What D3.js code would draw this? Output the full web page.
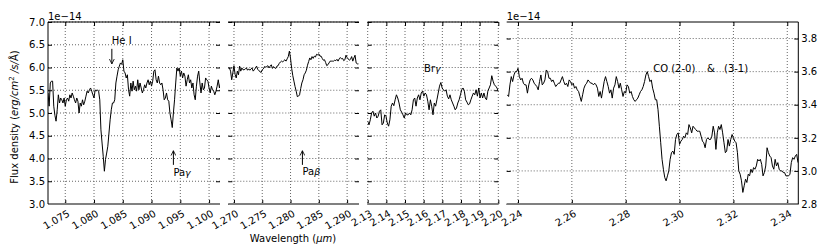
<!DOCTYPE html>
<html>
<head>
<meta charset="utf-8">
<script src="https://cdn.jsdelivr.net/npm/d3@7"></script>
<style>
  body { margin: 0; background: #fff; }
  svg { display: block; font-family: "DejaVu Sans", sans-serif; }
</style>
</head>
<body>
<svg id="chart" width="830" height="252"></svg>
<script>
// Spectrum pieces (flux in units of 1e-14)
const p1Wave = [
  1.0720,1.0722,1.0724,1.0726,1.0728,1.0730,1.0732,1.0734,1.0736,1.0738,
  1.0740,1.0742,1.0744,1.0746,1.0748,1.0750,1.0752,1.0754,1.0756,1.0758,
  1.0760,1.0762,1.0764,1.0766,1.0768,1.0770,1.0772,1.0774,1.0776,1.0778,
  1.0780,1.0782,1.0784,1.0786,1.0788,1.0790,1.0792,1.0794,1.0796,1.0798,
  1.0800,1.0802,1.0804,1.0806,1.0808,1.0810,1.0812,1.0814,1.0816,1.0818,
  1.0820,1.0822,1.0824,1.0826,1.0828,1.0830,1.0832,1.0834,1.0836,1.0838,
  1.0840,1.0842,1.0844,1.0846,1.0848,1.0850,1.0852,1.0854,1.0856,1.0858,
  1.0860,1.0862,1.0864,1.0866,1.0868,1.0870,1.0872,1.0874,1.0876,1.0878,
  1.0880,1.0882,1.0884,1.0886,1.0888,1.0890,1.0892,1.0894,1.0896,1.0898,
  1.0900,1.0902,1.0904,1.0906,1.0908,1.0910,1.0912,1.0914,1.0916,1.0918,
  1.0920,1.0922,1.0924,1.0926,1.0928,1.0930,1.0932,1.0934,1.0936,1.0938,
  1.0940,1.0942,1.0944,1.0946,1.0948,1.0950,1.0952,1.0954,1.0956,1.0958,
  1.0960,1.0962,1.0964,1.0966,1.0968,1.0970,1.0972,1.0974,1.0976,1.0978,
  1.0980,1.0982,1.0984,1.0986,1.0988,1.0990,1.0992,1.0994,1.0996,1.0998,
  1.1000,1.1002,1.1004,1.1006,1.1008,1.1010,1.1012,1.1014,1.1016,1.1018,
  1.1020
];
const p1Flux = [
  5.44,5.15,5.66,5.70,5.70,5.15,4.95,4.82,5.07,5.40,
  5.22,5.33,5.29,5.22,5.33,5.15,5.29,5.33,5.26,5.40,
  5.33,5.44,5.37,5.29,5.22,5.33,5.26,5.00,5.22,5.15,
  5.29,5.18,5.26,5.37,5.48,5.44,5.51,5.55,5.48,5.40,
  5.33,5.51,5.48,5.51,5.48,5.29,4.63,4.34,4.05,3.72,
  3.98,4.12,4.27,4.56,4.85,5.07,5.22,5.22,5.29,5.66,
  5.81,5.95,6.03,6.10,6.07,6.17,5.92,5.88,5.77,5.84,
  5.51,5.37,5.66,5.48,5.70,5.51,5.59,5.48,5.73,5.51,
  5.66,5.55,5.44,5.51,5.62,5.55,5.66,5.73,5.62,5.70,
  5.59,5.70,5.92,5.95,5.73,5.66,5.81,5.66,5.62,5.66,
  5.51,5.29,5.33,5.44,5.29,5.26,5.00,4.85,4.68,5.00,
  5.29,5.66,5.99,5.92,5.99,5.81,5.92,5.77,5.88,5.81,
  5.59,5.73,5.84,5.66,5.73,5.55,5.66,5.40,5.29,5.59,
  5.81,5.92,5.66,5.44,5.66,5.51,5.55,5.77,5.73,5.70,
  5.55,5.44,5.59,5.51,5.48,5.40,5.48,5.59,5.73,5.55,
  5.66
];

const p2Wave = [
  1.2690,1.2692,1.2694,1.2696,1.2698,1.2700,1.2702,1.2704,1.2706,1.2708,
  1.2710,1.2712,1.2714,1.2716,1.2718,1.2720,1.2722,1.2724,1.2726,1.2728,
  1.2730,1.2732,1.2734,1.2736,1.2738,1.2740,1.2742,1.2744,1.2746,1.2748,
  1.2750,1.2752,1.2754,1.2756,1.2758,1.2760,1.2762,1.2764,1.2766,1.2768,
  1.2770,1.2772,1.2774,1.2776,1.2778,1.2780,1.2782,1.2784,1.2786,1.2788,
  1.2790,1.2792,1.2794,1.2796,1.2798,1.2800,1.2802,1.2804,1.2806,1.2808,
  1.2810,1.2812,1.2814,1.2816,1.2818,1.2820,1.2822,1.2824,1.2826,1.2828,
  1.2830,1.2832,1.2834,1.2836,1.2838,1.2840,1.2842,1.2844,1.2846,1.2848,
  1.2850,1.2852,1.2854,1.2856,1.2858,1.2860,1.2862,1.2864,1.2866,1.2868,
  1.2870,1.2872,1.2874,1.2876,1.2878,1.2880,1.2882,1.2884,1.2886,1.2888,
  1.2890,1.2892,1.2894,1.2896,1.2898,1.2900,1.2902,1.2904,1.2906,1.2908,
  1.2910,1.2912,1.2914,1.2916,1.2918,1.2920
];
const p2Flux = [
  5.99,5.99,5.92,5.73,5.88,6.04,5.85,5.77,5.92,5.84,
  6.03,5.92,5.99,5.95,5.95,5.97,5.99,5.94,5.97,5.94,
  5.97,5.99,5.92,5.95,5.99,6.03,5.96,5.93,5.91,5.89,
  5.95,5.97,6.02,6.01,6.02,6.04,5.99,6.03,6.06,5.98,
  6.02,5.99,5.98,6.03,6.04,6.09,6.12,6.14,6.12,6.15,
  6.17,6.14,6.19,6.24,6.36,6.20,5.98,5.82,5.70,5.58,
  5.48,5.36,5.37,5.40,5.54,5.66,5.73,5.84,5.88,5.94,
  6.05,6.13,6.21,6.17,6.24,6.20,6.25,6.23,6.29,6.28,
  6.30,6.25,6.25,6.20,6.16,6.17,6.11,6.04,6.06,6.10,
  6.14,6.14,6.14,6.14,6.16,6.15,6.18,6.14,6.19,6.22,
  6.19,6.20,6.15,6.17,6.27,6.22,6.19,6.16,6.18,6.24,
  6.14,6.21,6.27,6.10,6.08,6.08
];

const p3Wave = [
  2.1300,2.1307,2.1314,2.1321,2.1328,2.1335,2.1342,2.1349,2.1356,2.1363,
  2.1370,2.1377,2.1384,2.1391,2.1398,2.1405,2.1412,2.1419,2.1426,2.1433,
  2.1440,2.1447,2.1454,2.1461,2.1468,2.1475,2.1482,2.1489,2.1496,2.1503,
  2.1510,2.1517,2.1524,2.1531,2.1538,2.1545,2.1552,2.1559,2.1566,2.1573,
  2.1580,2.1587,2.1594,2.1601,2.1608,2.1615,2.1622,2.1629,2.1636,2.1643,
  2.1650,2.1657,2.1664,2.1671,2.1678,2.1685,2.1692,2.1699,2.1706,2.1713,
  2.1720,2.1727,2.1734,2.1741,2.1748,2.1755,2.1762,2.1769,2.1776,2.1783,
  2.1790,2.1797,2.1804,2.1811,2.1818,2.1825,2.1832,2.1839,2.1846,2.1853,
  2.1860,2.1867,2.1874,2.1881,2.1888,2.1895,2.1902,2.1909,2.1916,2.1923,
  2.1930,2.1937,2.1944,2.1951,2.1958,2.1965,2.1972,2.1979,2.1986,2.1993,
  2.2000
];
const p3Flux = [
  4.82,4.74,4.85,5.00,5.04,4.93,5.00,4.89,4.93,5.04,
  5.07,4.74,4.78,4.96,4.93,4.78,4.71,4.85,5.15,5.22,
  5.16,5.29,5.40,5.33,5.22,5.07,5.02,4.96,4.89,5.00,
  4.96,4.96,5.00,4.96,5.07,5.29,5.33,5.15,5.33,5.40,
  5.29,5.44,5.48,5.37,5.44,5.40,5.26,5.07,5.29,5.15,
  4.96,5.22,5.15,5.29,5.44,5.59,5.67,5.55,5.51,5.48,
  5.51,5.37,5.31,5.40,5.29,5.22,5.15,5.07,5.11,5.22,
  5.29,5.40,5.51,5.55,5.48,5.29,5.24,5.18,5.20,5.29,
  5.37,5.44,5.40,5.51,5.37,5.55,5.33,5.44,5.33,5.44,
  5.33,5.29,5.48,5.55,5.62,5.82,5.70,5.62,5.59,5.55,
  5.48
];

const p4Wave = [
  2.2360,2.2365,2.2370,2.2375,2.2380,2.2385,2.2390,2.2395,2.2400,2.2405,
  2.2410,2.2415,2.2420,2.2425,2.2430,2.2435,2.2440,2.2445,2.2450,2.2455,
  2.2460,2.2465,2.2470,2.2475,2.2480,2.2485,2.2490,2.2495,2.2500,2.2505,
  2.2510,2.2515,2.2520,2.2525,2.2530,2.2535,2.2540,2.2545,2.2550,2.2555,
  2.2560,2.2565,2.2570,2.2575,2.2580,2.2585,2.2590,2.2595,2.2600,2.2605,
  2.2610,2.2615,2.2620,2.2625,2.2630,2.2635,2.2640,2.2645,2.2650,2.2655,
  2.2660,2.2665,2.2670,2.2675,2.2680,2.2685,2.2690,2.2695,2.2700,2.2705,
  2.2710,2.2715,2.2720,2.2725,2.2730,2.2735,2.2740,2.2745,2.2750,2.2755,
  2.2760,2.2765,2.2770,2.2775,2.2780,2.2785,2.2790,2.2795,2.2800,2.2805,
  2.2810,2.2815,2.2820,2.2825,2.2830,2.2835,2.2840,2.2845,2.2850,2.2855,
  2.2860,2.2865,2.2870,2.2875,2.2880,2.2885,2.2890,2.2895,2.2900,2.2905,
  2.2910,2.2915,2.2920,2.2925,2.2930,2.2935,2.2940,2.2945,2.2950,2.2955,
  2.2960,2.2965,2.2970,2.2975,2.2980,2.2985,2.2990,2.2995,2.3000,2.3005,
  2.3010,2.3015,2.3020,2.3025,2.3030,2.3035,2.3040,2.3045,2.3050,2.3055,
  2.3060,2.3065,2.3070,2.3075,2.3080,2.3085,2.3090,2.3095,2.3100,2.3105,
  2.3110,2.3115,2.3120,2.3125,2.3130,2.3135,2.3140,2.3145,2.3150,2.3155,
  2.3160,2.3165,2.3170,2.3175,2.3180,2.3185,2.3190,2.3195,2.3200,2.3205,
  2.3210,2.3215,2.3220,2.3225,2.3230,2.3235,2.3240,2.3245,2.3250,2.3255,
  2.3260,2.3265,2.3270,2.3275,2.3280,2.3285,2.3290,2.3295,2.3300,2.3305,
  2.3310,2.3315,2.3320,2.3325,2.3330,2.3335,2.3340,2.3345,2.3350,2.3355,
  2.3360,2.3365,2.3370,2.3375,2.3380,2.3385,2.3390,2.3395,2.3400,2.3405,
  2.3410,2.3415,2.3420,2.3425,2.3430,2.3435,2.3440
];
const p4Flux = [
  3.46,3.45,3.52,3.57,3.54,3.58,3.60,3.60,3.62,3.57,
  3.55,3.56,3.53,3.52,3.52,3.47,3.52,3.55,3.56,3.55,
  3.53,3.52,3.51,3.49,3.54,3.58,3.52,3.53,3.55,3.61,
  3.60,3.56,3.56,3.54,3.55,3.53,3.51,3.52,3.53,3.53,
  3.55,3.57,3.54,3.52,3.53,3.51,3.55,3.54,3.52,3.53,
  3.50,3.51,3.49,3.48,3.45,3.42,3.46,3.50,3.52,3.53,
  3.55,3.54,3.53,3.53,3.52,3.53,3.52,3.50,3.45,3.48,
  3.44,3.49,3.54,3.57,3.54,3.51,3.47,3.49,3.44,3.50,
  3.52,3.57,3.54,3.50,3.53,3.49,3.45,3.48,3.47,3.52,
  3.51,3.47,3.48,3.45,3.43,3.42,3.43,3.44,3.46,3.48,
  3.49,3.51,3.54,3.58,3.60,3.57,3.54,3.55,3.50,3.47,
  3.43,3.43,3.37,3.27,3.17,3.07,3.01,2.96,2.94,2.97,
  3.00,3.07,3.11,3.12,3.10,3.19,3.22,3.23,3.16,3.18,
  3.19,3.21,3.20,3.23,3.22,3.28,3.26,3.23,3.27,3.26,
  3.25,3.24,3.24,3.24,3.21,3.18,3.17,3.14,3.19,3.20,
  3.19,3.19,3.21,3.27,3.23,3.13,3.23,3.27,3.25,3.28,
  3.23,3.17,3.11,3.12,3.19,3.15,3.19,3.22,3.20,3.18,
  3.17,3.11,3.00,2.98,2.94,2.87,2.91,2.95,2.93,2.98,
  2.97,3.01,2.99,3.02,3.01,3.03,3.07,3.06,3.07,3.04,
  2.97,2.99,3.03,3.14,3.11,3.09,3.08,3.03,3.01,3.07,
  3.03,3.05,3.01,3.00,3.00,2.99,2.99,2.97,2.97,2.97,
  2.98,3.05,3.08,3.07,3.09,3.10,3.05
];

// Tick values
const p1Ticks = [1.075, 1.080, 1.085, 1.090, 1.095, 1.100];
const p2Ticks = [1.270, 1.275, 1.280, 1.285, 1.290];
const p3Ticks = [2.13, 2.14, 2.15, 2.16, 2.17, 2.18, 2.19, 2.20];
const p4Ticks = [2.24, 2.26, 2.28, 2.30, 2.32, 2.34];
const leftFluxTicks = [3.0, 3.5, 4.0, 4.5, 5.0, 5.5, 6.0, 6.5, 7.0];
const rightFluxTicks = [2.8, 3.0, 3.2, 3.4, 3.6, 3.8];

// Line identifications: [panel, label, greek, wavelength, textFlux, arrowFrom, arrowTo]
const lineIds = [
  [0, "He I", "",  1.0831, 6.52, 6.41, 6.08],
  [0, "Pa",   "γ", 1.0938, 3.62, 3.86, 4.17],
  [1, "Pa",   "β", 1.2821, 3.64, 3.86, 4.17],
  [2, "Br",   "γ", 2.1602, 5.91, null, null]
];
const coLabels = [["CO (2-0)", 2.2902], ["&", 2.3102], ["(3-1)", 2.3165]];

const svg = d3.select("#chart");
const plotTop = 22, plotBottom = 204;
const font = "DejaVu Sans, sans-serif";

const yLeft = d3.scaleLinear().domain([3.0, 7.0]).range([plotBottom, plotTop]);
const yRight = d3.scaleLinear().domain([2.8, 3.9]).range([plotBottom, plotTop]);

const panels = [
  {wave: p1Wave, flux: p1Flux, domain: [1.0720, 1.1019], px: [48, 220], ticks: p1Ticks, fmt: ".3f", y: yLeft, yTicks: leftFluxTicks},
  {wave: p2Wave, flux: p2Flux, domain: [1.2690, 1.2921], px: [228.3, 359], ticks: p2Ticks, fmt: ".3f", y: yLeft, yTicks: leftFluxTicks},
  {wave: p3Wave, flux: p3Flux, domain: [2.1300, 2.2000], px: [367.7, 498.3], ticks: p3Ticks, fmt: ".2f", y: yLeft, yTicks: leftFluxTicks},
  {wave: p4Wave, flux: p4Flux, domain: [2.2358, 2.3441], px: [506.7, 798.3], ticks: p4Ticks, fmt: ".2f", y: yRight, yTicks: rightFluxTicks}
];

const defs = svg.append("defs");
defs.append("marker")
    .attr("id", "head")
    .attr("viewBox", "0 0 10 10")
    .attr("refX", 9).attr("refY", 5)
    .attr("markerWidth", 6).attr("markerHeight", 6)
    .attr("orient", "auto")
  .append("path")
    .attr("d", "M1,1 L9,5 L1,9")
    .attr("fill", "none")
    .attr("stroke", "#000")
    .attr("stroke-width", 1.4);

function styleAxis(a) {
  a.select(".domain").remove();
  a.attr("font-family", font).attr("font-size", 10);
  a.selectAll(".tick line").attr("stroke", "#000");
  a.selectAll(".tick text").attr("fill", "#000");
}

panels.forEach((p, i) => {
  const x = d3.scaleLinear().domain(p.domain).range(p.px);
  const y = p.y;
  p.x = x;
  const [x0, x1] = p.px;
  const g = svg.append("g");

  defs.append("clipPath").attr("id", "clip" + i)
    .append("rect")
      .attr("x", x0).attr("y", plotTop)
      .attr("width", x1 - x0).attr("height", plotBottom - plotTop);

  // dotted grid
  g.append("g").selectAll("line").data(p.ticks).join("line")
      .attr("x1", d => x(d)).attr("x2", d => x(d))
      .attr("y1", plotTop).attr("y2", plotBottom)
      .attr("stroke", "#666").attr("stroke-dasharray", "1,2");
  g.append("g").selectAll("line").data(p.yTicks).join("line")
      .attr("x1", x0).attr("x2", x1)
      .attr("y1", d => y(d)).attr("y2", d => y(d))
      .attr("stroke", "#666").attr("stroke-dasharray", "1,2");

  // x axis, bottom with rotated labels
  g.append("g")
      .attr("transform", `translate(0,${plotBottom})`)
      .call(d3.axisBottom(x).tickValues(p.ticks).tickFormat(d3.format(p.fmt)).tickSize(-4))
      .call(styleAxis)
      .call(a => a.selectAll(".tick text")
          .attr("y", 0).attr("dy", "0.75em")
          .attr("text-anchor", "end")
          .attr("transform", "translate(1,5) rotate(-30)"));
  g.append("g")
      .attr("transform", `translate(0,${plotTop})`)
      .call(d3.axisTop(x).tickValues(p.ticks).tickFormat("").tickSize(-4))
      .call(styleAxis);

  // y ticks on both sides
  g.append("g")
      .attr("transform", `translate(${x0},0)`)
      .call(d3.axisLeft(y).tickValues(p.yTicks).tickSize(-4).tickPadding(3)
          .tickFormat(i === 0 ? d3.format(".1f") : ""))
      .call(styleAxis);
  g.append("g")
      .attr("transform", `translate(${x1},0)`)
      .call(d3.axisRight(y).tickValues(p.yTicks).tickSize(-4).tickPadding(3)
          .tickFormat(i === 3 ? d3.format(".1f") : ""))
      .call(styleAxis);

  // spectrum
  g.append("path")
      .datum(d3.zip(p.wave, p.flux))
      .attr("clip-path", `url(#clip${i})`)
      .attr("fill", "none")
      .attr("stroke", "#000")
      .attr("stroke-width", 1)
      .attr("stroke-linejoin", "round")
      .attr("d", d3.line().x(d => x(d[0])).y(d => y(d[1])));

  // spines
  g.append("line").attr("x1", x0).attr("x2", x1).attr("y1", plotTop).attr("y2", plotTop)
      .attr("stroke", "#000");
  g.append("line").attr("x1", x0).attr("x2", x1).attr("y1", plotBottom).attr("y2", plotBottom)
      .attr("stroke", "#808080").attr("stroke-width", 2);
  if (i === 0) {
    g.append("line").attr("x1", x0).attr("x2", x0).attr("y1", plotTop).attr("y2", plotBottom)
        .attr("stroke", "#000");
  }
  if (i === 3) {
    g.append("line").attr("x1", x1).attr("x2", x1).attr("y1", plotTop).attr("y2", plotBottom)
        .attr("stroke", "#000");
  }
});

// offset text
[[0, panels[0].px[0]], [3, panels[3].px[0]]].forEach(([i, xp]) => {
  svg.append("text")
      .attr("x", xp).attr("y", 19.5)
      .attr("font-family", font).attr("font-size", 10)
      .text("1e\u221214");
});

// line identifications
lineIds.forEach(([pi, label, greek, wl, tf, af, at]) => {
  const p = panels[pi];
  const t = svg.append("text")
      .attr("x", p.x(wl)).attr("y", p.y(tf))
      .attr("font-family", font).attr("font-size", 10);
  t.append("tspan").text(label);
  if (greek) t.append("tspan").attr("font-style", "italic").attr("font-size", 9.5).text(greek);
  if (af !== null) {
    svg.append("line")
        .attr("x1", p.x(wl)).attr("x2", p.x(wl))
        .attr("y1", p.y(af)).attr("y2", p.y(at))
        .attr("stroke", "#000").attr("stroke-width", 1)
        .attr("marker-end", "url(#head)");
  }
});
coLabels.forEach(([label, wl]) => {
  svg.append("text")
      .attr("x", panels[3].x(wl)).attr("y", panels[3].y(3.598))
      .attr("font-family", font).attr("font-size", 10)
      .text(label);
});

// axis titles
const yTitle = svg.append("text")
    .attr("transform", "translate(18,117) rotate(-90)")
    .attr("text-anchor", "middle")
    .attr("font-family", font).attr("font-size", 10);
yTitle.append("tspan").text("Flux density (");
yTitle.append("tspan").attr("font-style", "italic").text("erg/cm");
yTitle.append("tspan").attr("font-size", 7).attr("dy", -4).text("2");
yTitle.append("tspan").attr("font-style", "italic").attr("dy", 4).text(" /s/");
yTitle.append("tspan").text("Å)");

const xTitle = svg.append("text")
    .attr("x", 293).attr("y", 241.5)
    .attr("text-anchor", "middle")
    .attr("font-family", font).attr("font-size", 10);
xTitle.append("tspan").text("Wavelength (");
xTitle.append("tspan").attr("font-style", "italic").text("μm");
xTitle.append("tspan").text(")");
</script>
</body>
</html>
